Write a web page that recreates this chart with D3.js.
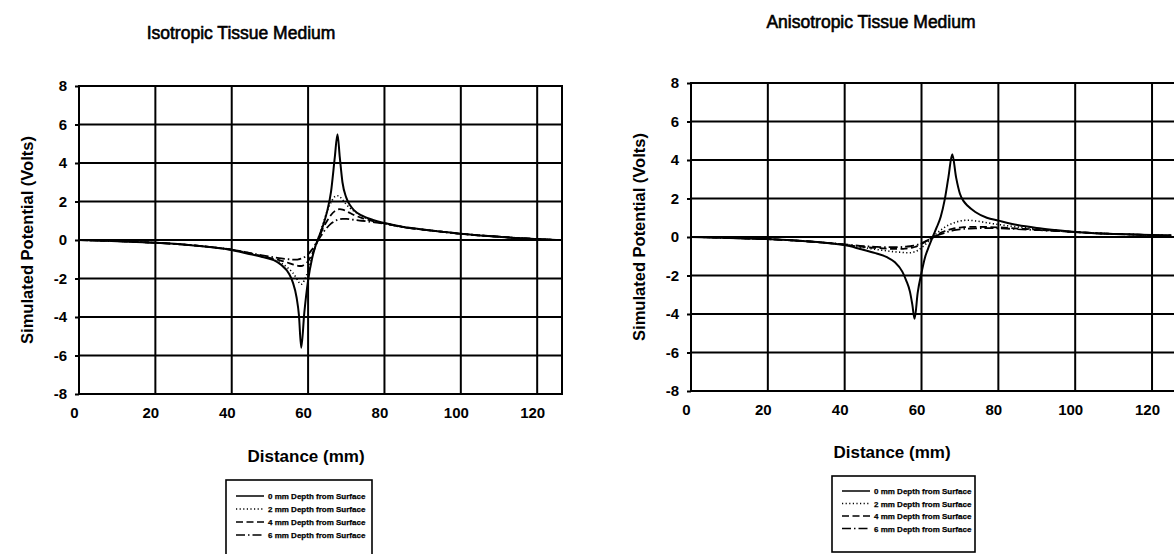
<!DOCTYPE html>
<html><head><meta charset="utf-8">
<script src="https://cdn.jsdelivr.net/npm/d3@7/dist/d3.min.js"></script>
<style>
html,body{margin:0;padding:0;background:#fff;}
svg{display:block;font-family:"Liberation Sans",Arial,sans-serif;}
</style></head>
<body>
<svg id="chart" width="1174" height="554"></svg>
<script>
// ---------- Data ----------
const xTicks = [0, 20, 40, 60, 80, 100, 120];
const yTicks = [-8, -6, -4, -2, 0, 2, 4, 6, 8];
const seriesNames = ["0 mm Depth from Surface", "2 mm Depth from Surface", "4 mm Depth from Surface", "6 mm Depth from Surface"];

// Isotropic medium
const isoDistance = [0,5,10,15,20,25,30,35,40,44,48,51,53,55,56,57,57.6,58.2,59,60,61,62,63,64,65,66,67,67.7,68.3,69,70,71,72,74,77,80,85,90,95,100,105,110,115,120,125];
const iso0mm = [0,-0.03,-0.06,-0.1,-0.14,-0.2,-0.28,-0.38,-0.52,-0.7,-0.88,-1.05,-1.3,-1.75,-2.2,-3.0,-3.9,-5.6,-3.8,-2.1,-1.0,-0.27,0.25,0.8,1.5,2.5,4.3,5.5,4.3,3.0,2.2,1.8,1.55,1.28,1.04,0.88,0.68,0.55,0.43,0.32,0.24,0.17,0.1,0.05,0.0];
const iso2mm = [0,-0.03,-0.06,-0.1,-0.14,-0.2,-0.28,-0.38,-0.51,-0.68,-0.86,-1.02,-1.2,-1.5,-1.7,-2.0,-2.2,-2.3,-2.1,-1.6,-0.9,-0.3,0.3,0.9,1.5,1.95,2.25,2.3,2.25,2.1,1.85,1.65,1.5,1.25,1.02,0.87,0.68,0.55,0.43,0.32,0.24,0.17,0.1,0.05,0.0];
const iso4mm = [0,-0.03,-0.06,-0.1,-0.14,-0.2,-0.28,-0.38,-0.5,-0.66,-0.84,-0.98,-1.08,-1.2,-1.27,-1.32,-1.35,-1.35,-1.28,-1.1,-0.75,-0.3,0.2,0.65,1.0,1.3,1.5,1.58,1.6,1.58,1.5,1.4,1.3,1.15,0.98,0.86,0.67,0.54,0.43,0.32,0.24,0.17,0.1,0.05,0.0];
const iso6mm = [0,-0.03,-0.06,-0.1,-0.14,-0.2,-0.28,-0.38,-0.5,-0.64,-0.8,-0.9,-0.96,-1.0,-1.02,-1.02,-1.0,-0.97,-0.9,-0.75,-0.5,-0.2,0.1,0.4,0.65,0.85,0.98,1.05,1.08,1.1,1.1,1.08,1.05,1.0,0.93,0.85,0.66,0.54,0.43,0.32,0.24,0.17,0.1,0.05,0.0];

// Anisotropic medium
const anisoDistance = [0,5,10,15,20,25,30,35,40,44,48,51,53,55,56,57,57.6,58.2,59,60,61,62,63,64,65,66,67,68,69,70,71,72,74,77,80,85,90,95,100,105,110,115,120,125];
const aniso0mm = [0,-0.02,-0.05,-0.08,-0.11,-0.16,-0.22,-0.3,-0.42,-0.62,-0.84,-1.05,-1.3,-1.8,-2.25,-2.85,-3.5,-4.25,-2.9,-1.85,-1.0,-0.45,0.05,0.52,1.05,1.9,3.1,4.3,3.1,2.25,1.85,1.62,1.3,1.0,0.85,0.62,0.47,0.36,0.26,0.2,0.16,0.13,0.1,0.08];
const aniso2mm = [0,-0.02,-0.05,-0.08,-0.11,-0.16,-0.22,-0.3,-0.4,-0.52,-0.64,-0.72,-0.77,-0.8,-0.82,-0.82,-0.8,-0.77,-0.7,-0.55,-0.38,-0.18,0.02,0.2,0.36,0.5,0.62,0.7,0.78,0.83,0.86,0.87,0.84,0.74,0.65,0.52,0.42,0.33,0.26,0.2,0.16,0.13,0.1,0.08];
const aniso4mm = [0,-0.02,-0.05,-0.08,-0.11,-0.16,-0.22,-0.3,-0.4,-0.5,-0.57,-0.6,-0.62,-0.62,-0.6,-0.58,-0.55,-0.52,-0.46,-0.36,-0.25,-0.12,0.0,0.12,0.22,0.3,0.37,0.42,0.46,0.49,0.51,0.52,0.53,0.52,0.5,0.44,0.38,0.32,0.26,0.2,0.16,0.13,0.1,0.08];
const aniso6mm = [0,-0.02,-0.05,-0.08,-0.11,-0.16,-0.22,-0.3,-0.38,-0.46,-0.51,-0.53,-0.53,-0.52,-0.5,-0.48,-0.46,-0.44,-0.4,-0.32,-0.23,-0.13,-0.03,0.07,0.15,0.22,0.28,0.33,0.37,0.4,0.42,0.43,0.45,0.46,0.45,0.41,0.36,0.31,0.26,0.2,0.16,0.13,0.1,0.08];

// ---------- Styles ----------
const dashes = [null, "1.2,2.4", "7,3.5", "9,3,1.5,3"];
const widths = [2, 1.6, 1.8, 1.8];

const svg = d3.select("#chart");

function drawPanel(cfg) {
  const x = d3.scaleLinear().domain([0, 126.5]).range([cfg.left, cfg.right]);
  const y = d3.scaleLinear().domain([-8, 8]).range([cfg.bottom, cfg.top]);
  const g = svg.append("g");

  const clipId = "clip" + cfg.id;
  svg.append("clipPath").attr("id", clipId).append("rect")
    .attr("x", cfg.left).attr("y", cfg.top)
    .attr("width", cfg.right - cfg.left).attr("height", cfg.bottom - cfg.top);

  // grid
  g.append("g").selectAll("line").data(xTicks.filter(d => d > 0)).join("line")
    .attr("x1", d => x(d)).attr("x2", d => x(d))
    .attr("y1", cfg.top).attr("y2", cfg.bottom)
    .attr("stroke", "#000").attr("stroke-width", 2);
  g.append("g").selectAll("line").data(yTicks.filter(d => d > -8 && d < 8)).join("line")
    .attr("x1", cfg.left).attr("x2", cfg.right)
    .attr("y1", d => y(d)).attr("y2", d => y(d))
    .attr("stroke", "#000").attr("stroke-width", 2);
  // frame
  g.append("rect").attr("x", cfg.left).attr("y", cfg.top)
    .attr("width", cfg.right - cfg.left).attr("height", cfg.bottom - cfg.top)
    .attr("fill", "none").attr("stroke", "#000").attr("stroke-width", 2);

  // axes
  const yAxis = g.append("g").attr("transform", `translate(${cfg.left},0)`)
    .call(d3.axisLeft(y).tickValues(yTicks).tickSize(4).tickPadding(8).tickFormat(d => String(d)));
  const xAxis = g.append("g").attr("transform", `translate(0,${cfg.bottom})`)
    .call(d3.axisBottom(x).tickValues(xTicks).tickSize(0).tickPadding(13).tickFormat(d => String(d)));
  [yAxis, xAxis].forEach(a => {
    a.select(".domain").remove();
    a.selectAll("line").attr("stroke", "#000").attr("stroke-width", 2);
    a.selectAll("text").attr("font-size", 15).attr("font-weight", "bold")
      .attr("font-family", "'Liberation Sans',Arial,sans-serif").attr("fill", "#000");
  });
  xAxis.selectAll("text").attr("dx", -5);

  // curves
  const line = d3.line().x(d => x(d[0])).y(d => y(d[1])).curve(d3.curveMonotoneX);
  cfg.series.forEach((vals, i) => {
    const pts = cfg.dist.map((d, k) => [d, vals[k]]);
    g.append("path").datum(pts).attr("d", line)
      .attr("clip-path", `url(#${clipId})`)
      .attr("fill", "none").attr("stroke", "#000")
      .attr("stroke-width", widths[i])
      .attr("stroke-dasharray", dashes[i]);
  });

  // titles
  g.append("text").attr("x", cfg.titleX).attr("y", cfg.titleY)
    .attr("text-anchor", "middle").attr("font-size", 17.5)
    .attr("stroke", "#000").attr("stroke-width", 0.6)
    .text(cfg.title);
  g.append("text").attr("transform", `translate(${cfg.yLabelX},${(cfg.top + cfg.bottom) / 2}) rotate(-90)`)
    .attr("text-anchor", "middle").attr("font-size", 16.5).attr("font-weight", "bold")
    .text("Simulated Potential (Volts)");
  g.append("text").attr("x", cfg.xLabelX).attr("y", cfg.xLabelY)
    .attr("text-anchor", "middle").attr("font-size", 17).attr("font-weight", "bold")
    .text("Distance (mm)");

  // legend
  const lg = g.append("g");
  lg.append("rect").attr("x", cfg.legX).attr("y", cfg.legY)
    .attr("width", cfg.legW).attr("height", cfg.legH)
    .attr("fill", "#fff").attr("stroke", "#000").attr("stroke-width", 1.6);
  seriesNames.forEach((name, i) => {
    const ry = cfg.legY + cfg.legRow0 + i * cfg.legStep;
    lg.append("line").attr("x1", cfg.legX + 10).attr("x2", cfg.legX + 38)
      .attr("y1", ry).attr("y2", ry).attr("stroke", "#000")
      .attr("stroke-width", 1.5).attr("stroke-dasharray", dashes[i]);
    lg.append("text").attr("x", cfg.legX + 42).attr("y", ry + 3)
      .attr("font-size", 8).attr("font-weight", "bold")
      .attr("stroke", "#000").attr("stroke-width", 0.25).text(name);
  });
}

drawPanel({
  id: "iso", title: "Isotropic Tissue Medium",
  left: 79, right: 562, top: 86, bottom: 394,
  titleX: 241, titleY: 39, yLabelX: 33, xLabelX: 306, xLabelY: 462,
  legX: 226, legY: 480, legW: 146, legH: 78, legRow0: 16, legStep: 13,
  dist: isoDistance, series: [iso0mm, iso2mm, iso4mm, iso6mm]
});
drawPanel({
  id: "aniso", title: "Anisotropic Tissue Medium",
  left: 691, right: 1177, top: 83, bottom: 391,
  titleX: 871, titleY: 28, yLabelX: 645, xLabelX: 892, xLabelY: 458,
  legX: 832, legY: 476, legW: 143, legH: 76, legRow0: 15, legStep: 12.5,
  dist: anisoDistance, series: [aniso0mm, aniso2mm, aniso4mm, aniso6mm]
});
</script>
</body></html>
